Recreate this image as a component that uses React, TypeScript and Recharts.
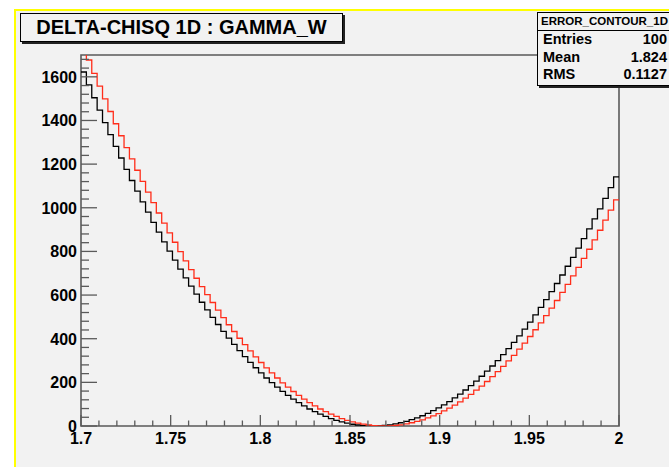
import { LineChart, Line, XAxis, YAxis, ReferenceArea } from "recharts";

// histogram binning: 100 bins over [1.7, 2.0]
const BIN_START = 1.7;
const BIN_WIDTH = 0.003;

// delta chi-square per bin
const chisqBlack = [
  1622, 1563, 1504, 1447, 1390, 1335, 1281, 1228, 1176, 1125,
  1076, 1027, 980, 933, 888, 844, 801, 760, 719, 679,
  641, 604, 567, 532, 498, 465, 434, 403, 374, 345,
  318, 292, 267, 243, 220, 199, 178, 159, 140, 123,
  107, 92, 78, 66, 54, 44, 34, 26, 19, 13,
  8, 4.5, 1.9, 0.4, 0, 0.8, 2.6, 5.6, 9.7, 15,
  21, 29, 37, 47, 58, 70, 83, 97, 112, 129,
  146, 165, 185, 206, 228, 251, 275, 300, 327, 355,
  383, 413, 444, 476, 509, 544, 579, 616, 653, 692,
  732, 773, 815, 859, 903, 949, 995, 1043, 1092, 1142,
];

const chisqRed = [
  1739, 1677, 1616, 1557, 1499, 1441, 1385, 1330, 1276, 1224,
  1172, 1121, 1072, 1024, 976, 930, 885, 842, 799, 757,
  717, 677, 639, 602, 566, 531, 497, 464, 433, 402,
  373, 344, 317, 291, 266, 243, 220, 198, 178, 158,
  140, 123, 107, 92, 78, 66, 54, 44, 34, 26,
  19, 13, 8.3, 4.6, 1.9, 0.4, 0, 0.7, 2.5, 5.5,
  9.5, 15, 21, 28, 37, 46, 57, 69, 82, 96,
  111, 128, 145, 164, 183, 204, 226, 249, 273, 298,
  324, 352, 380, 410, 441, 473, 506, 540, 575, 612,
  649, 688, 727, 768, 810, 853, 897, 943, 989, 1036,
];

const xTicks = [
  1.7, 1.71, 1.72, 1.73, 1.74, 1.75, 1.76, 1.77, 1.78, 1.79,
  1.8, 1.81, 1.82, 1.83, 1.84, 1.85, 1.86, 1.87, 1.88, 1.89,
  1.9, 1.91, 1.92, 1.93, 1.94, 1.95, 1.96, 1.97, 1.98, 1.99, 2.0,
];
const xLabelTicks = [1.7, 1.75, 1.8, 1.85, 1.9, 1.95, 2.0];

const yTicks = [
  0, 40, 80, 120, 160, 200, 240, 280, 320, 360, 400, 440, 480, 520, 560,
  600, 640, 680, 720, 760, 800, 840, 880, 920, 960, 1000, 1040, 1080, 1120,
  1160, 1200, 1240, 1280, 1320, 1360, 1400, 1440, 1480, 1520, 1560, 1600,
  1640, 1680,
];
const yLabelTicks = [0, 200, 400, 600, 800, 1000, 1200, 1400, 1600];

const TITLE = "DELTA-CHISQ 1D : GAMMA_W";
const statsName = "ERROR_CONTOUR_1D";
const statsRows = [
  ["Entries", "100"],
  ["Mean", "1.824"],
  ["RMS", "0.1127"],
];

const FONT = "'Liberation Sans', Arial, Helvetica, sans-serif";
const AXIS_COLOR = "#5a5a5a";

const rows = Array.from({ length: chisqBlack.length + 1 }, (_, i) => {
  const k = Math.min(i, chisqBlack.length - 1);
  return {
    x: +(BIN_START + i * BIN_WIDTH).toFixed(4),
    black: chisqBlack[k],
    red: chisqRed[k],
  };
});

function XTick(props: any) {
  const { x, y, payload } = props;
  const v = payload.value;
  const major = xLabelTicks.some((t) => Math.abs(t - v) < 1e-6);
  return (
    <g>
      <line x1={x} y1={y} x2={x} y2={y - (major ? 11 : 5.5)} stroke={AXIS_COLOR} strokeWidth={1.3} />
      {major && (
        <text x={x} y={y + 18} textAnchor="middle" fontFamily={FONT} fontWeight="bold" fontSize={16} fill="#000">
          {String(Number(v.toFixed(2)))}
        </text>
      )}
    </g>
  );
}

function YTick(props: any) {
  const { x, y, payload } = props;
  const v = payload.value;
  const major = yLabelTicks.includes(v);
  return (
    <g>
      <line x1={x} y1={y} x2={x + (major ? 16 : 8)} y2={y} stroke={AXIS_COLOR} strokeWidth={1.3} />
      {major && (
        <text x={x - 4} y={y + 6} textAnchor="end" fontFamily={FONT} fontWeight="bold" fontSize={16} fill="#000">
          {v}
        </text>
      )}
    </g>
  );
}

export default function App() {
  return (
    <div style={{ position: "fixed", left: 0, top: 0, width: 669, height: 467, background: "#fff", overflow: "hidden" }}>
      <div
        style={{
          position: "absolute",
          left: 14,
          top: 9,
          width: 655,
          height: 458,
          background: "#f2f2f2",
          borderLeft: "2px solid #ffff00",
          borderTop: "2px solid #ffff00",
        }}
      />
      <div style={{ position: "absolute", left: 0, top: 0 }}>
        <LineChart width={669} height={467} data={rows} margin={{ top: 55, right: 50, bottom: 40, left: 80 }}>
          <XAxis
            dataKey="x"
            type="number"
            domain={[1.7, 2.0]}
            ticks={xTicks}
            interval={0}
            height={1}
            axisLine={false}
            tickLine={false}
            tickSize={0}
            tickMargin={0}
            tick={<XTick />}
          />
          <YAxis
            type="number"
            domain={[0, 1700]}
            allowDataOverflow
            ticks={yTicks}
            interval={0}
            width={1}
            axisLine={false}
            tickLine={false}
            tickSize={0}
            tickMargin={0}
            tick={<YTick />}
          />
          <Line
            type="stepAfter"
            dataKey="black"
            stroke="#000"
            strokeWidth={1.3}
            dot={false}
            isAnimationActive={false}
          />
          <Line
            type="stepAfter"
            dataKey="red"
            stroke="#ff2d1a"
            strokeWidth={1.3}
            dot={false}
            isAnimationActive={false}
          />
          <ReferenceArea x1={1.7} x2={2.0} y1={0} y2={1700} fill="none" stroke={AXIS_COLOR} strokeWidth={1.6} />
        </LineChart>
      </div>
      <div
        style={{
          position: "absolute",
          left: 20,
          top: 13,
          width: 321,
          height: 27,
          background: "#f2f2f2",
          border: "1px solid #000",
          boxShadow: "2px 2px 0 #222",
          fontFamily: FONT,
          fontWeight: "bold",
          fontSize: 20,
          lineHeight: "27px",
          textAlign: "center",
        }}
      >
        {TITLE}
      </div>
      <div
        style={{
          position: "absolute",
          left: 537,
          top: 12,
          width: 150,
          height: 72,
          background: "#f2f2f2",
          border: "1px solid #000",
          boxShadow: "2px 2px 0 #222",
          fontFamily: FONT,
          fontWeight: "bold",
        }}
      >
        <div style={{ fontSize: 11.5, lineHeight: "17px", paddingLeft: 3, borderBottom: "1px solid #000" }}>{statsName}</div>
        {statsRows.map(([k, v]) => (
          <div key={k} style={{ display: "flex", justifyContent: "space-between", width: 124, paddingLeft: 5, fontSize: 14.5, lineHeight: "17.5px" }}>
            <span>{k}</span>
            <span>{v}</span>
          </div>
        ))}
      </div>
    </div>
  );
}
